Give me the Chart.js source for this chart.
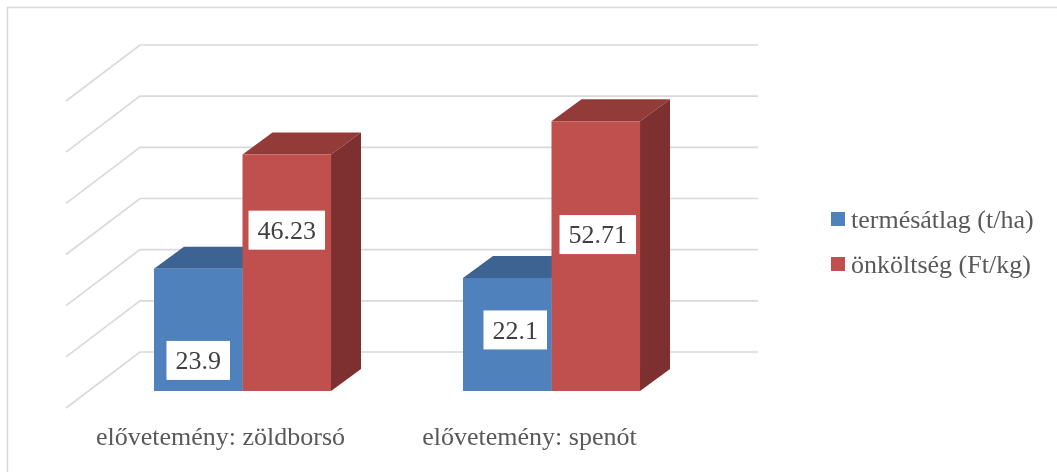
<!DOCTYPE html>
<html>
<head>
<meta charset="utf-8">
<script src="https://cdn.jsdelivr.net/npm/chart.js@4"></script>
<style>
    html, body { margin: 0; padding: 0; background: #fff; }
    canvas { display: block; }
</style>
</head>
<body>
<canvas id="barChart" width="1057" height="472"></canvas>
<script>
// Chart data
const categories = ['elővetemény: zöldborsó', 'elővetemény: spenót'];
const seriesNames = ['termésátlag (t/ha)', 'önköltség (Ft/kg)'];
const termesatlag = [23.9, 22.1];
const onkoltseg = [46.23, 52.71];
const gridValues = [0, 10, 20, 30, 40, 50, 60];

// Where the value boxes sit inside each bar (share of bar height, x shift)
const labelSpot = [[0.25, 0.54], [0.68, 0.58]];
const labelShift = [[0, 8], [0, 2]];

const FONT = "'Liberation Serif', 'Times New Roman', serif";
const faceColors = [
    { front: '#4F81BD', top: '#3C6391', side: '#2F4F74' },
    { front: '#C0504D', top: '#933B39', side: '#7D302F' }
];
const barDepth = { dx: 30, dy: -22 };
const backWall = { dx: 52, dy: -39 };
const frontEdge = { dx: -22, dy: 17 };

const threeD = {
    id: 'threeD',
    beforeDraw(chart) {
        const ctx = chart.ctx;
        ctx.save();
        ctx.fillStyle = '#fff';
        ctx.fillRect(0, 0, chart.width, chart.height);
        // frame: only the top and left edges fall inside the canvas
        ctx.strokeStyle = '#D9D9D9';
        ctx.lineWidth = 1.5;
        ctx.beginPath();
        ctx.moveTo(7.5, chart.height);
        ctx.lineTo(7.5, 7.5);
        ctx.lineTo(chart.width, 7.5);
        ctx.stroke();
        ctx.restore();
    },
    beforeDatasetsDraw(chart) {
        const ctx = chart.ctx;
        const area = chart.chartArea;
        const y = chart.scales.y;
        ctx.save();
        ctx.strokeStyle = '#D9D9D9';
        ctx.lineWidth = 1.6;
        gridValues.forEach(v => {
            const py = y.getPixelForValue(v);
            ctx.beginPath();
            ctx.moveTo(area.left + frontEdge.dx, py + frontEdge.dy);
            ctx.lineTo(area.left + backWall.dx, py + backWall.dy);
            ctx.lineTo(area.right + backWall.dx, py + backWall.dy);
            ctx.stroke();
        });

        // top and side faces, fronts are drawn by the bar controller
        categories.forEach((c, i) => {
            chart.data.datasets.forEach((ds, d) => {
                const bar = chart.getDatasetMeta(d).data[i];
                const p = bar.getProps(['x', 'y', 'base', 'width'], true);
                const l = p.x - p.width / 2, r = p.x + p.width / 2;
                ctx.fillStyle = faceColors[d].top;
                ctx.beginPath();
                ctx.moveTo(l, p.y);
                ctx.lineTo(r, p.y);
                ctx.lineTo(r + barDepth.dx, p.y + barDepth.dy);
                ctx.lineTo(l + barDepth.dx, p.y + barDepth.dy);
                ctx.closePath();
                ctx.fill();
                ctx.fillStyle = faceColors[d].side;
                ctx.beginPath();
                ctx.moveTo(r, p.y);
                ctx.lineTo(r + barDepth.dx, p.y + barDepth.dy);
                ctx.lineTo(r + barDepth.dx, p.base + barDepth.dy);
                ctx.lineTo(r, p.base);
                ctx.closePath();
                ctx.fill();
            });
        });
        ctx.restore();
    },
    afterDatasetsDraw(chart) {
        const ctx = chart.ctx;
        ctx.save();
        ctx.font = '26px ' + FONT;
        ctx.textAlign = 'center';
        ctx.textBaseline = 'middle';
        chart.data.datasets.forEach((ds, d) => {
            chart.getDatasetMeta(d).data.forEach((bar, i) => {
                const p = bar.getProps(['x', 'y', 'base'], true);
                const text = String(ds.data[i]);
                const w = ctx.measureText(text).width + 18;
                const h = 39;
                const cx = p.x + labelShift[d][i];
                const cy = p.base - (p.base - p.y) * labelSpot[d][i];
                ctx.fillStyle = '#fff';
                ctx.fillRect(cx - w / 2, cy - h / 2, w, h);
                ctx.fillStyle = '#404040';
                ctx.fillText(text, cx, cy + 2);
            });
        });
        ctx.restore();
    },
    afterDraw(chart) {
        // legend on the right
        const ctx = chart.ctx;
        ctx.save();
        ctx.font = '26px ' + FONT;
        ctx.textBaseline = 'middle';
        chart.data.datasets.forEach((ds, d) => {
            const cy = 219 + d * 45;
            ctx.fillStyle = ds.backgroundColor;
            ctx.fillRect(831, cy - 7, 14, 14);
            ctx.fillStyle = '#595959';
            ctx.fillText(ds.label, 851, cy + 2);
        });
        ctx.restore();
    }
};

new Chart(document.getElementById('barChart'), {
    type: 'bar',
    data: {
        labels: categories,
        datasets: [{
            label: seriesNames[0],
            data: termesatlag,
            backgroundColor: faceColors[0].front,
            borderWidth: 0
        }, {
            label: seriesNames[1],
            data: onkoltseg,
            backgroundColor: faceColors[1].front,
            borderWidth: 0
        }]
    },
    options: {
        responsive: false,
        animation: false,
        devicePixelRatio: 1,
        categoryPercentage: 0.573,
        barPercentage: 1,
        layout: {
            padding: { left: 88, right: 351, top: 84, bottom: 18 }
        },
        scales: {
            x: {
                grid: { display: false, drawTicks: false },
                border: { display: false },
                ticks: {
                    font: { family: FONT, size: 26 },
                    color: '#595959',
                    labelOffset: -22,
                    padding: 32,
                    maxRotation: 0
                },
                afterFit(scale) {
                    scale.height = 63;
                }
            },
            y: {
                display: false,
                min: 0,
                max: 60,
                ticks: { stepSize: 10 }
            }
        },
        plugins: {
            legend: { display: false },
            tooltip: { enabled: false }
        }
    },
    plugins: [threeD]
});
</script>
</body>
</html>
